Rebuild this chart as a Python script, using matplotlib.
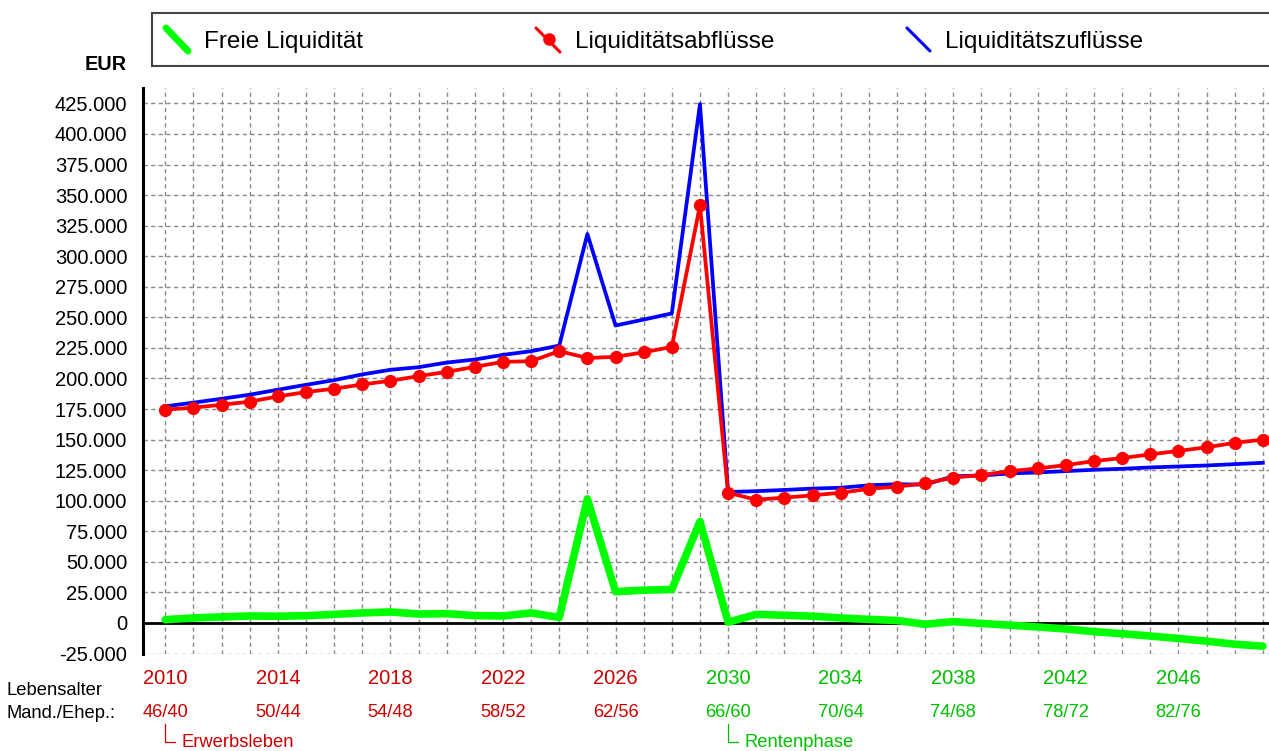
import numpy as np
import matplotlib
matplotlib.use('Agg')
import matplotlib.pyplot as plt

plt.rcParams['font.family'] = ['Liberation Sans', 'DejaVu Sans']

# Daten (in EUR)
jahre = list(range(2010, 2050))

zufluesse = [177200, 180200, 183400, 186700, 190800, 194800, 198600, 203300, 207100, 209200,
             213000, 215500, 219300, 222300, 226900, 318200, 243300, 248200, 253200, 424500,
             107100, 107800, 108800, 109900, 110600, 112600, 113500, 113100, 120000, 120600,
             122300, 123100, 124200, 125300, 126100, 127200, 128000, 128800, 129900, 131000]

abfluesse = [174500, 176100, 178500, 181000, 185300, 188900, 191600, 195100, 198100, 201900,
             205400, 209500, 213600, 214100, 222400, 216700, 217700, 221400, 225800, 341500,
             106500, 100800, 102500, 104400, 106500, 109700, 111500, 114200, 118900, 121000,
             124100, 126400, 129100, 132400, 134900, 137900, 140700, 143700, 147300, 150000]

freie_liq = [2700, 4100, 4900, 5700, 5500, 5900, 7000, 8200, 9000, 7300,
             7600, 6000, 5700, 8200, 4500, 101500, 25600, 26800, 27400, 83000,
             600, 7000, 6300, 5500, 4100, 2900, 2000, -1100, 1100, -400,
             -1800, -3300, -4900, -7100, -8800, -10700, -12700, -14900, -17400, -19000]

label_jahre = [2010, 2014, 2018, 2022, 2026, 2030, 2034, 2038, 2042, 2046]
label_alter = ['46/40', '50/44', '54/48', '58/52', '62/56', '66/60', '70/64', '74/68', '78/72', '82/76']
rentenbeginn = 2030
y_ticks = list(range(-25000, 425001, 25000))

ROT = '#cc0000'
GRUEN = '#00c000'

W, H = 1269, 751
fig = plt.figure(figsize=(W / 100, H / 100), dpi=100)


def px(x0, y0, x1, y1):
    # Pixelkasten -> Figurenkoordinaten
    return [x0 / W, 1 - y1 / H, (x1 - x0) / W, (y1 - y0) / H]


ax = fig.add_axes(px(143.3, 87.7, W, 653.5))

# Kurven
ax.plot(jahre, freie_liq, color='#00ff00', lw=5.5, solid_joinstyle='round',
        solid_capstyle='round', zorder=3)
ax.plot(jahre, zufluesse, color='#0000ff', lw=2.7, zorder=4)
ax.plot(jahre, abfluesse, color='#ff0000', lw=2.7, marker='o', markersize=8.5, zorder=5)

ax.axhline(0, color='black', lw=2, zorder=2)

ax.set_xlim(2009.22, 2049.22)
ax.set_ylim(-25000, 437860)

ax.set_xticks(jahre)
ax.set_yticks(y_ticks)
ax.set_yticklabels([f'{v:,.0f}'.replace(',', '.') for v in y_ticks])
ax.tick_params(axis='x', length=0, labelbottom=False)
ax.tick_params(axis='y', length=0, pad=11.5, labelsize=14.5)
ax.grid(True, color='#888888', ls=(0, (3, 2.5)), lw=1.0)
ax.set_axisbelow(True)

for s in ['top', 'right', 'bottom']:
    ax.spines[s].set_visible(False)
ax.spines['left'].set_linewidth(2.2)

# Jahre und Lebensalter unter der Achse
trans = ax.get_xaxis_transform()
for j, a in zip(label_jahre, label_alter):
    c = ROT if j < rentenbeginn else GRUEN
    ax.text(j, -0.045, str(j), transform=trans, ha='center', va='center',
            fontsize=14.5, color=c, clip_on=False)
    ax.text(j, -0.105, a, transform=trans, ha='center', va='center',
            fontsize=13.2, color=c, clip_on=False)

# Phasen-Markierungen
for j, txt, c in [(2010, 'Erwerbsleben', ROT), (rentenbeginn, 'Rentenphase', GRUEN)]:
    ax.plot([j, j, j + 0.36], [-0.125, -0.157, -0.157], transform=trans,
            color=c, lw=0.9, clip_on=False)
    ax.text(j + 0.58, -0.157, txt, transform=trans, ha='left', va='center',
            fontsize=13.2, color=c, clip_on=False)

fig.text(7 / W, 1 - 690.7 / H, 'Lebensalter', ha='left', va='center', fontsize=13.2)
fig.text(7 / W, 1 - 713 / H, 'Mand./Ehep.:', ha='left', va='center', fontsize=13.2)
fig.text(127 / W, 1 - 64 / H, 'EUR', ha='right', va='center', fontsize=14.3, fontweight='bold')

# Legende (Kasten oben)
lax = fig.add_axes(px(152, 12.7, W + 2, 66))
lax.set_xlim(152, W + 2)
lax.set_ylim(66, 12.7)
lax.set_xticks([])
lax.set_yticks([])
for s in lax.spines.values():
    s.set_color('#444444')
    s.set_linewidth(1.5)

lax.plot([166, 188], [28, 51], color='#00ff00', lw=5, solid_capstyle='round')
lax.text(204, 41.7, 'Freie Liquidität', va='center', fontsize=17.5)
lax.plot([536, 560], [28, 52], color='#ff0000', lw=2.2, solid_capstyle='round')
lax.plot([549], [39.5], 'o', color='#ff0000', markersize=8)
lax.text(575, 41.7, 'Liquiditätsabflüsse', va='center', fontsize=17.5)
lax.plot([907, 930], [28, 51], color='#0000ff', lw=2.2, solid_capstyle='round')
lax.text(945, 41.7, 'Liquiditätszuflüsse', va='center', fontsize=17.5)

fig.savefig('out.png', dpi=100)
